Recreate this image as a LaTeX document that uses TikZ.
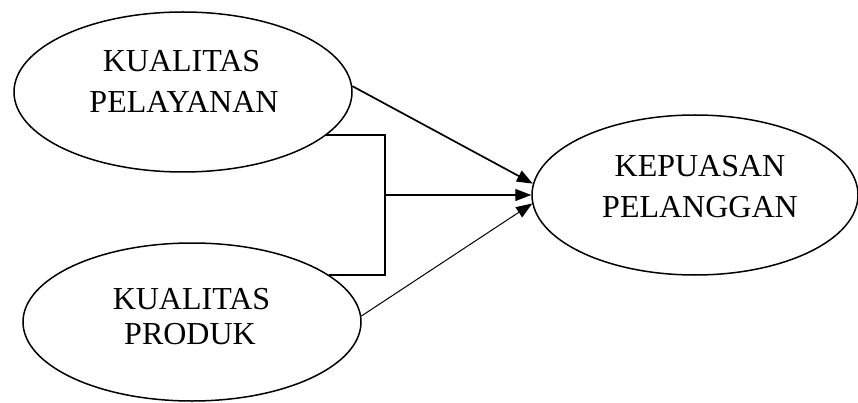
\documentclass[tikz,border=0pt]{standalone}
\usepackage{fontspec}
\setmainfont{Liberation Serif}
\usetikzlibrary{arrows.meta,shapes.geometric}
\begin{document}
\begin{tikzpicture}[x=1pt,y=-1pt,
  oval/.style={draw,ellipse,line width=1.5pt,inner sep=0pt},
  lbl/.style={anchor=base,inner sep=0pt,font=\fontsize{32}{38}\selectfont},
  arr/.style={-{Triangle[length=16pt,width=12pt]}},
  brk/.style={line width=1.5pt}]
\useasboundingbox (0,0) rectangle (858,403);
\node[oval,minimum width=338pt,minimum height=160pt] (qp) at (183,92) {};
\node[oval,minimum width=338pt,minimum height=158pt] (qpr) at (192,322) {};
\node[oval,minimum width=326pt,minimum height=160pt] (kp) at (695,195) {};
\node[lbl] (t1) at (181.5,72) {KUALITAS};
\node[lbl] (t2) at (184,113) {PELAYANAN};
\node[lbl] (t3) at (191.5,309) {KUALITAS};
\node[lbl] (t4) at (190,344) {PRODUK};
\node[lbl] (t5) at (700,177) {KEPUASAN};
\node[lbl] (t6) at (700,218) {PELANGGAN};
\coordinate (jt) at (385,135);
\coordinate (jm) at (385,195);
\coordinate (jb) at (385,275);
\draw[brk] (jt -| qp.-17) -- (jt) -- (jb) -- (jb -| qpr.19);
\draw[arr,line width=1.7pt] (qp.2) -- (kp.176.5);
\draw[arr,line width=1.4pt] (jm) -- (kp.west);
\draw[arr,line width=1pt] (qpr.2) -- (kp.183.5);
\end{tikzpicture}
\end{document}
